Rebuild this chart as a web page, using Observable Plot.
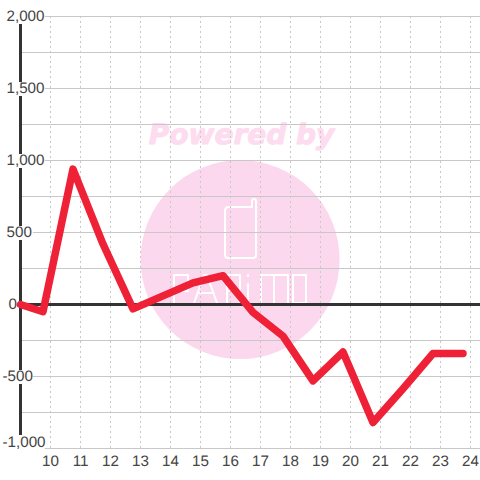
<!DOCTYPE html>
<html>
<head>
<meta charset="utf-8">
<style>html,body{margin:0;padding:0;background:#fff}svg{display:block}svg text{text-rendering:geometricPrecision}</style>
<script src="https://cdn.jsdelivr.net/npm/d3@7"></script>
<script src="https://cdn.jsdelivr.net/npm/@observablehq/plot@0.6"></script>
</head>
<body>
<div id="chart"></div>
<script>
const hours = [9, 9.75, 10.75, 11.75, 12.75, 13.75, 14.75, 15.75, 16.75, 17.75, 18.75, 19.75, 20.75, 21.75, 22.75, 23.75];
const values = [0, -50, 940, 420, -30, 60, 150, 200, -55, -220, -530, -330, -820, -585, -340, -340];
const xTicks = [10, 11, 12, 13, 14, 15, 16, 17, 18, 19, 20, 21, 22, 23, 24];
const yLabels = [2000, 1500, 1000, 500, 0, -500, -1000];
const yGrid = [2000, 1750, 1500, 1250, 1000, 750, 500, 250, -250, -500, -750, -1000];
const series = hours.map((h, i) => ({h, v: values[i]}));

const font = "Liberation Sans";
const fmt = d3.format(",");
const labelColor = "#444";
const labelSize = 15.2;
const logoMark = () => {
  // decorative watermark drawn in chart pixels
  const g = d3.create("svg:g").attr("fill", "none").attr("stroke", "#fff").attr("stroke-width", 2)
    .attr("stroke-linecap", "round").attr("stroke-linejoin", "round");
  const paths = [
    "M229 207H252V201Q252 199 254 199Q256 199 256 201V255Q256 258 253 258H228Q225 258 225 255V211Q225 207 229 207",
    "M174 304V275H188V291H175",
    "M194 303L204 275H207L217 303M198 293H214",
    "M227 304V275H240V291H228M233 291L241 304",
    "M248 304V284M248 275V276",
    "M261 304V275H288V304M274 275V304",
    "M293 275H306V303H293Z"
  ];
  paths.forEach(d => g.append("path").attr("d", d));
  return g.node();
};
const labelText = d => fmt(d).replace("−", "-");

const plot = Plot.plot({
  width: 480,
  height: 480,
  marginLeft: 20,
  marginRight: 0,
  marginTop: 16,
  marginBottom: 32,
  style: {background: "#fff", fontFamily: font},
  x: {domain: [9, 24.3333], range: [20, 480], axis: null},
  y: {domain: [-1000, 2000], range: [448, 16], axis: null},
  marks: [
    // watermark
    Plot.dot([0], {x: () => 16.32, y: () => 312, r: 99.5, fill: "#fcd8ee", stroke: null}),
    Plot.text(["Powered by"], {
      x: () => 16.37, y: () => 1180, text: d => d, fontSize: 28, fontWeight: "bold", fontStyle: "italic",
      fontFamily: "DejaVu Sans", fill: "#fddcf0", stroke: "#fddcf0", strokeWidth: 1, textAnchor: "middle"
    }),
    logoMark,
    // grid
    Plot.ruleX(xTicks, {stroke: "#c8c8c8", strokeWidth: 1, strokeDasharray: "2,3", y1: -1000, y2: 2000}),
    Plot.ruleY(yGrid, {stroke: "#c8c8c8", strokeWidth: 1}),
    // axes
    Plot.ruleY([0], {stroke: "#333", strokeWidth: 3}),
    Plot.ruleX([9], {stroke: "#333", strokeWidth: 3, y1: -1000, y2: 2000}),
    // label backgrounds
    Plot.rect(yLabels.filter(d => d !== 0 && d !== -1000), {
      x1: () => 8.3, x2: d => (Math.abs(d) >= 1000 ? 9.83 : 9.43),
      y1: d => d, y2: d => d, insetTop: -6, insetBottom: -8, fill: "#fff"
    }),
    Plot.rect([-1000], {
      x1: () => 8.3, x2: () => 9.83,
      y1: d => d, y2: d => d, insetTop: -13, insetBottom: -2, fill: "#fff"
    }),
    // series
    Plot.line(series, {x: "h", y: "v", stroke: "#ee2137", strokeWidth: 7.5, curve: "linear"}),
    // tick labels
    Plot.text(yLabels.filter(d => d > 0), {
      frameAnchor: "left", dx: -14, y: d => d, text: labelText, textAnchor: "start", fontSize: labelSize, fill: labelColor, fontFamily: font
    }),
    Plot.text([0], {
      frameAnchor: "left", dx: -12, y: d => d, text: labelText, textAnchor: "start", fontSize: labelSize, fill: labelColor, fontFamily: font
    }),
    Plot.text([-500], {
      frameAnchor: "left", dx: -18, y: d => d, text: labelText, textAnchor: "start", fontSize: labelSize, fill: labelColor, fontFamily: font
    }),
    Plot.text([-1000], {
      frameAnchor: "left", dx: -18, dy: -6, y: d => d, text: labelText, textAnchor: "start", fontSize: labelSize, fill: labelColor, fontFamily: font
    }),
    Plot.text(xTicks, {
      x: d => d, frameAnchor: "bottom", dy: 17, text: d => String(d), textAnchor: "middle", fontSize: labelSize, fill: labelColor, fontFamily: font
    })
  ]
});
document.getElementById("chart").appendChild(plot);
</script>
</body>
</html>
